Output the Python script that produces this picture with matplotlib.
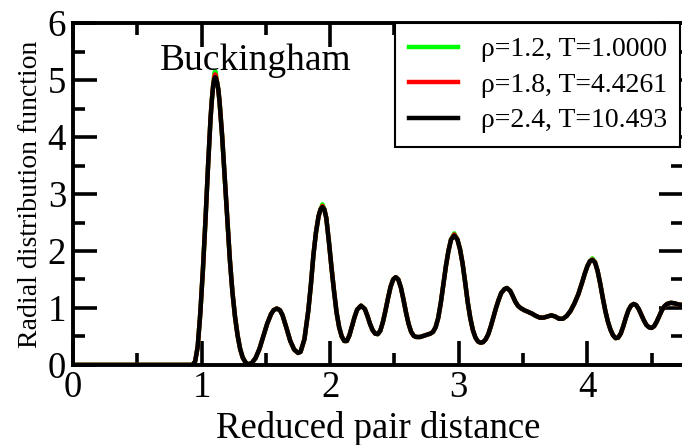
import matplotlib
matplotlib.use("Agg")
import matplotlib.pyplot as plt
from matplotlib.ticker import MultipleLocator

plt.rcParams['font.family'] = ['Liberation Serif', 'DejaVu Serif']

# reduced pair distance and g(r)
r = [0.0, 0.90, 0.93, 0.95, 0.97, 0.99, 1.01, 1.03, 1.05, 1.07, 1.08, 1.09,
     1.10, 1.105, 1.11, 1.12, 1.13, 1.14, 1.16, 1.18, 1.20, 1.22, 1.24, 1.26,
     1.28, 1.30, 1.32, 1.34, 1.36,
     1.39, 1.42, 1.45, 1.48, 1.51, 1.54, 1.56, 1.585, 1.61, 1.63, 1.66, 1.69,
     1.72, 1.75, 1.77,
     1.80, 1.83, 1.85, 1.87, 1.89, 1.91, 1.925, 1.94, 1.955, 1.97, 1.99, 2.01,
     2.03, 2.05, 2.07, 2.09, 2.11, 2.13,
     2.15, 2.17, 2.19, 2.21, 2.24, 2.27, 2.29, 2.31, 2.33, 2.35, 2.37, 2.39,
     2.41, 2.43, 2.45, 2.47, 2.49, 2.51, 2.53, 2.55, 2.57, 2.59, 2.61, 2.63,
     2.65, 2.67, 2.70, 2.74, 2.78, 2.80,
     2.82, 2.84, 2.86, 2.88, 2.90, 2.92, 2.94, 2.965, 2.99, 3.01, 3.03, 3.05,
     3.07, 3.09, 3.11, 3.13, 3.15, 3.17, 3.19, 3.21,
     3.23, 3.25, 3.27, 3.29, 3.31, 3.33, 3.355, 3.375, 3.40, 3.42, 3.44, 3.46,
     3.48, 3.51, 3.54, 3.57, 3.60, 3.63, 3.66, 3.69, 3.72, 3.75, 3.78, 3.81,
     3.84, 3.87, 3.90,
     3.93, 3.96, 3.98, 4.00, 4.02, 4.04, 4.06, 4.08, 4.10, 4.12, 4.14, 4.16,
     4.18, 4.20, 4.22, 4.24, 4.26,
     4.28, 4.30, 4.32, 4.34, 4.36, 4.38, 4.40, 4.42, 4.44, 4.46, 4.48, 4.50,
     4.52, 4.54, 4.56, 4.58, 4.60, 4.62, 4.65, 4.68, 4.71, 4.75]

g_black = [0.0, 0.0, 0.0, 0.06, 0.32, 0.9, 1.65, 2.52, 3.47, 4.33, 4.65, 4.9,
           5.02, 5.05, 5.04, 4.97, 4.84, 4.62, 4.02, 3.30, 2.55, 1.85, 1.28, 0.85,
           0.52, 0.28, 0.13, 0.05, 0.01,
           0.03, 0.12, 0.28, 0.5, 0.72, 0.89, 0.96, 0.99, 0.96, 0.87, 0.65, 0.42,
           0.27, 0.21, 0.23,
           0.45, 0.95, 1.4, 1.93, 2.33, 2.61, 2.73, 2.77, 2.73, 2.58, 2.17, 1.72,
           1.3, 0.92, 0.66, 0.5, 0.42, 0.42,
           0.52, 0.68, 0.84, 0.97, 1.04, 0.98, 0.86, 0.72, 0.61, 0.55, 0.54, 0.6,
           0.75, 0.95, 1.17, 1.37, 1.5, 1.54, 1.5, 1.36, 1.15, 0.92, 0.72, 0.58,
           0.51, 0.49, 0.49, 0.52, 0.55, 0.58,
           0.66, 0.82, 1.08, 1.4, 1.73, 2.0, 2.2, 2.27, 2.2, 2.03, 1.78, 1.45,
           1.1, 0.82, 0.61, 0.48, 0.41, 0.39, 0.4, 0.45,
           0.54, 0.68, 0.84, 1.0, 1.14, 1.26, 1.33, 1.35, 1.3, 1.21, 1.11, 1.04,
           1.0, 0.96, 0.93, 0.9, 0.86, 0.83, 0.83, 0.85, 0.87, 0.85, 0.81, 0.81,
           0.86, 0.95, 1.08,
           1.24, 1.45, 1.6, 1.73, 1.82, 1.84, 1.8, 1.65, 1.43, 1.18, 0.95, 0.76,
           0.62, 0.52, 0.47, 0.48, 0.55,
           0.68, 0.83, 0.96, 1.04, 1.07, 1.05, 0.98, 0.88, 0.78, 0.7, 0.66, 0.65,
           0.68, 0.76, 0.86, 0.96, 1.03, 1.07, 1.09, 1.08, 1.06, 1.05]

# the other two state points only differ visibly at the peak tops
peaks_red = {1.10: 5.07, 1.105: 5.10, 1.11: 5.09, 1.94: 2.79,
             2.965: 2.29, 4.04: 1.85}
peaks_green = {1.10: 5.12, 1.105: 5.16, 1.11: 5.14, 1.94: 2.82,
               2.965: 2.31, 4.04: 1.87}
g_red = [peaks_red.get(x, y) for x, y in zip(r, g_black)]
g_green = [peaks_green.get(x, y) for x, y in zip(r, g_black)]

labels = ['\u03c1=1.2, T=1.0000', '\u03c1=1.8, T=4.4261', '\u03c1=2.4, T=10.493']
colors = ['#00ff00', '#ff0000', '#000000']

fig = plt.figure(figsize=(6.82, 4.45), dpi=100)
ax = fig.add_axes([0.107, 0.18, 0.895, 0.768])

for g, lab, c in zip([g_green, g_red, g_black], labels, colors):
    ax.plot(r, g, color=c, lw=3.2, label=lab, solid_joinstyle='round')

ax.set_xlim(0, 4.747)
ax.set_ylim(0, 6)
ax.xaxis.set_major_locator(MultipleLocator(1))
ax.xaxis.set_minor_locator(MultipleLocator(0.5))
ax.yaxis.set_major_locator(MultipleLocator(1))
ax.yaxis.set_minor_locator(MultipleLocator(0.5))
ax.tick_params(which='both', direction='in', top=True, right=True, width=2.6,
               labelsize=26.5)
ax.tick_params(which='major', length=17)
ax.tick_params(which='minor', length=8.5)
ax.tick_params(axis='x', pad=4)
ax.tick_params(axis='y', pad=5)
for s in ax.spines.values():
    s.set_linewidth(2.8)

ax.set_xlabel('Reduced pair distance', fontsize=26.5, labelpad=4)
ax.set_ylabel('Radial distribution function', fontsize=20, labelpad=3)
ax.text(0.677, 5.175, 'Buckingham', fontsize=27, va='baseline')

leg = ax.legend(loc='upper left', bbox_to_anchor=(0.528, 1.0, 0.467, 0.0),
                mode='expand', borderaxespad=0, fontsize=20, fancybox=False,
                framealpha=1, edgecolor='black', handlelength=1.75,
                handletextpad=0.85, labelspacing=0.36, borderpad=0.5)
leg.get_frame().set_linewidth(1.5)
for h in leg.get_lines():
    h.set_linewidth(3.2)

fig.savefig('out.png', dpi=100)
